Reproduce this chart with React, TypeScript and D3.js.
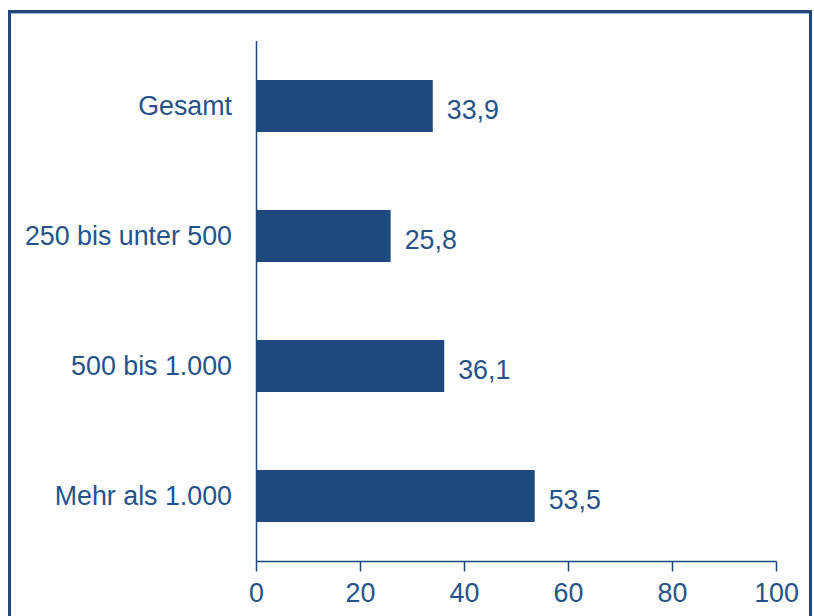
import React from "react";
import * as d3 from "d3";

const categories = ["Gesamt", "250 bis unter 500", "500 bis 1.000", "Mehr als 1.000"];
const values = [33.9, 25.8, 36.1, 53.5];
const xTicks = [0, 20, 40, 60, 80, 100];

const W = 814;
const H = 616;
const BLUE = "#1F497D";
const TEXT = "#24538a";

export default function App() {
  const x = d3.scaleLinear().domain([0, 100]).range([256.5, 776.5]);
  const y = d3.scaleBand().domain(categories).range([41, 561]).paddingInner(0.6).paddingOuter(0.3);
  const fmt = (v: number) => v.toFixed(1).replace(".", ",");
  const font = "'Liberation Sans', Arial, sans-serif";
  const axisY = 561.5;
  return (
    <svg width={W} height={H} style={{ position: "absolute", left: 0, top: 0, display: "block" }} fontFamily={font}>
      <rect x={0} y={0} width={W} height={H} fill="#fff" />
      <rect x={9.5} y={11.5} width={801} height={640} fill="none" stroke={BLUE} strokeWidth={3} />
      <line x1={11} x2={809} y1={13.5} y2={13.5} stroke="#9db3d0" strokeWidth={1} />
      {categories.map((c, i) => (
        <g key={c}>
          <rect x={x(0)} y={y(c)!} width={x(values[i]) - x(0)} height={y.bandwidth()} fill={BLUE} />
          <text x={232} y={y(c)! + y.bandwidth() / 2} dy="0.35em" textAnchor="end" fontSize={26.8} fill={TEXT}>
            {c}
          </text>
          <text x={x(values[i]) + 14} y={y(c)! + y.bandwidth() / 2 + 4} dy="0.35em" fontSize={26.8} fill={TEXT}>
            {fmt(values[i])}
          </text>
        </g>
      ))}
      <line x1={x(0)} x2={x(0)} y1={41} y2={axisY} stroke={BLUE} strokeWidth={1.5} />
      <line x1={x(0)} x2={x(100)} y1={axisY} y2={axisY} stroke={BLUE} strokeWidth={1.5} />
      {xTicks.map((t) => (
        <g key={t}>
          <line x1={x(t)} x2={x(t)} y1={axisY} y2={axisY + 10} stroke={BLUE} strokeWidth={1.5} />
          <text x={x(t)} y={593} dy="0.35em" textAnchor="middle" fontSize={26.8} fill={TEXT}>
            {t}
          </text>
        </g>
      ))}
    </svg>
  );
}
